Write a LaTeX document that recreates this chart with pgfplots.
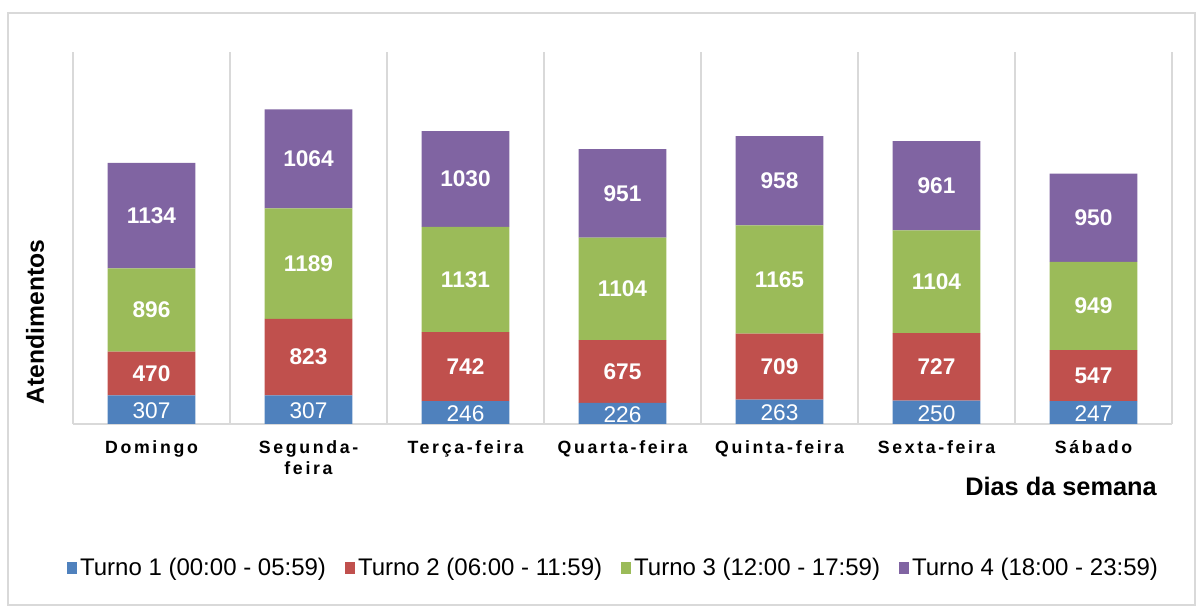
\documentclass[border=0pt]{standalone}
\usepackage{fontspec}
\setmainfont{Liberation Sans}
\newfontfamily\trackfont[LetterSpace=15]{Liberation Sans}
\usepackage{pgfplots}
\usepackage{pgfplotstable}
\pgfplotsset{compat=1.18}

\definecolor{t1}{HTML}{4F81BD}
\definecolor{t2}{HTML}{C0504D}
\definecolor{t3}{HTML}{9BBB59}
\definecolor{t4}{HTML}{8064A2}
\definecolor{gridgray}{HTML}{D9D9D9}

\pgfkeys{/pgf/number format/.cd, assume math mode=true, 1000 sep={}}

% atendimentos por turno e dia
\pgfplotstableread{
x t1 t2 t3 t4
0 307 470 896 1134
1 307 823 1189 1064
2 246 742 1131 1030
3 226 675 1104 951
4 263 709 1165 958
5 250 727 1104 961
6 247 547 949 950
}\turnos

\pgfplotsset{
  seg/.style={
    fill=#1, draw=none,
    point meta=explicit,
    nodes near coords={\pgfmathprintnumber{\pgfplotspointmeta}},
    every node near coord/.append style={anchor=center, text=white},
    legend image code/.code={\fill[fill=#1] (0pt,-4.5pt) rectangle (7.5pt,4.5pt);},
  },
}

\begin{document}
\begin{tikzpicture}
\path[use as bounding box] (0,0) rectangle (902.25pt,457.5pt);
\draw[gridgray, line width=0.8pt] (6pt,3.75pt) rectangle (896.25pt,447.75pt);
\begin{axis}[
  at={(54.75pt,139.5pt)}, anchor=south west,
  scale only axis, width=824.25pt, height=279pt,
  ybar stacked, bar width=0.56,
  xmin=-0.5, xmax=6.5, ymin=0, ymax=4000,
  enlarge x limits=false, clip=false,
  axis line style={draw=none},
  ytick=\empty,
  xtick={0,...,6},
  xticklabels={Domingo,{Segunda-\\feira},Terça-feira,Quarta-feira,Quinta-feira,Sexta-feira,Sábado},
  xticklabel style={align=center, yshift=-9pt,
    font=\trackfont\bfseries\fontsize{13.3}{15.75}\selectfont},
  major tick length=0pt, minor tick length=0pt,
  minor xtick={-0.5,0.5,...,6.5},
  xminorgrids=true,
  minor grid style={gridgray, line width=1.1pt},
  extra y ticks={0}, extra y tick labels={},
  extra y tick style={ymajorgrids=true, major grid style={gridgray, line width=1.6pt}},
  xlabel={Dias da semana},
  xlabel style={at={(rel axis cs:0.899,-0.169)}, anchor=center,
    font=\bfseries\fontsize{19}{21}\selectfont},
  ylabel={Atendimentos},
  every axis y label/.style={at={(rel axis cs:-0.0346,0.274)}, rotate=90, anchor=center,
    font=\bfseries\fontsize{18.5}{20}\selectfont},
  legend columns=4,
  legend style={at={(0.492,-0.387)}, anchor=center, draw=none, fill=none,
    font=\fontsize{18}{20}\selectfont,
    /tikz/every odd column/.append style={column sep=0.5pt},
    /tikz/every even column/.append style={column sep=12pt}},
]
\addplot[seg=t1, every node near coord/.append style={font=\fontsize{17}{18}\selectfont, yshift=-1pt}]
  table[x=x, y=t1, meta=t1] {\turnos};
\addlegendentry{Turno 1 (00:00 - 05:59)}
\addplot[seg=t2, every node near coord/.append style={font=\bfseries\fontsize{17}{18}\selectfont}]
  table[x=x, y=t2, meta=t2] {\turnos};
\addlegendentry{Turno 2 (06:00 - 11:59)}
\addplot[seg=t3, every node near coord/.append style={font=\bfseries\fontsize{17}{18}\selectfont}]
  table[x=x, y=t3, meta=t3] {\turnos};
\addlegendentry{Turno 3 (12:00 - 17:59)}
\addplot[seg=t4, every node near coord/.append style={font=\bfseries\fontsize{17}{18}\selectfont}]
  table[x=x, y=t4, meta=t4] {\turnos};
\addlegendentry{Turno 4 (18:00 - 23:59)}
\end{axis}
\end{tikzpicture}
\end{document}
